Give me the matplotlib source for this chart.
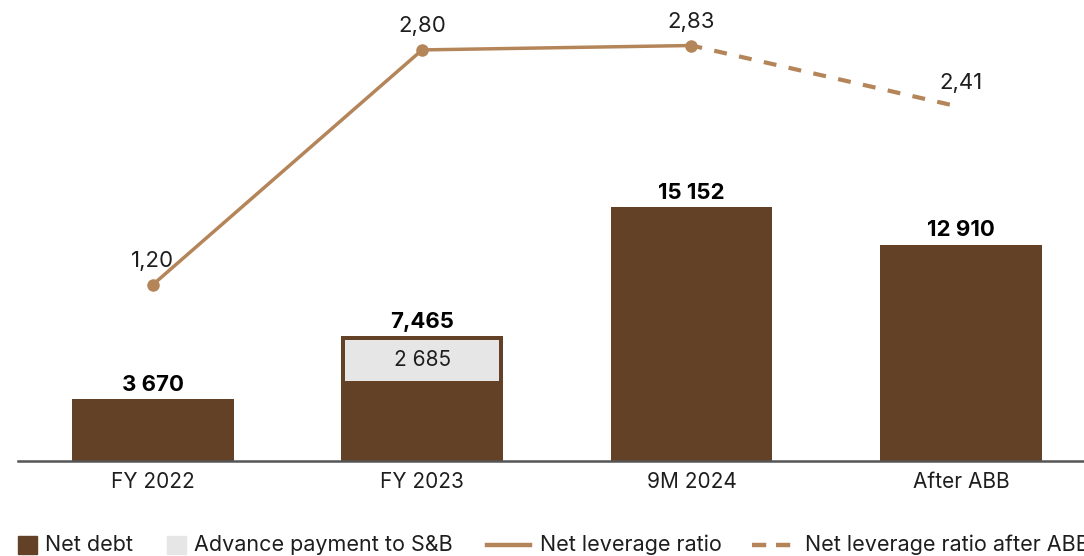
import matplotlib
matplotlib.use("Agg")
import matplotlib.pyplot as plt
from matplotlib.patches import Rectangle
from matplotlib.lines import Line2D

plt.rcParams['font.family'] = ['Inter', 'DejaVu Sans']

categories = ["FY 2022", "FY 2023", "9M 2024", "After ABB"]
net_debt = [3670, 7465, 15152, 12910]
net_debt_labels = ["3 670", "7,465", "15 152", "12 910"]
advance_payment = [0, 2685, 0, 0]
leverage = [1.20, 2.80, 2.83]
leverage_after = [2.83, 2.41]
leverage_labels = ["1,20", "2,80", "2,83", "2,41"]
legend_labels = ["Net debt", "Advance payment to S&B", "Net leverage ratio",
                 "Net leverage ratio after ABB"]

BROWN = "#634127"
GREY = "#E6E6E6"
TAN = "#B5855A"
TEXT = "#1E1E1E"

W, H = 1084, 556
fig = plt.figure(figsize=(W / 100, H / 100), dpi=100)
ax = fig.add_axes([18 / W, 1 - 461 / H, 1 - 18 / W, 461 / H])
ax2 = ax.twinx()

x = list(range(len(categories)))
width = 0.6
ax.set_xlim(-0.5, 3.457)
ax.set_ylim(0, 27500)
ax2.set_ylim(0, 3.14)

# Net debt bars
ax.bar(x, net_debt, width=width, color=BROWN, zorder=2)

# Advance payment shown as a light inset inside the top of the bar
dx = 3.5 / 269.3          # inset of ~3 px horizontally, in data units
dy_top = 4 / 0.01676      # ~4 px from the bar top
for i, a in enumerate(advance_payment):
    if a > 0:
        bottom = net_debt[i] - a
        ax.bar(x[i], a - dy_top, bottom=bottom, width=width - 2 * dx,
               color=GREY, zorder=3)
        ax.text(x[i], bottom + (a - dy_top) / 2, f"{a:,}".replace(",", " "),
                ha="center", va="center", fontsize=15, color=TEXT, zorder=4)

for xi, v, lab in zip(x, net_debt, net_debt_labels):
    ax.annotate(lab, (xi, v), xytext=(0, 3), textcoords="offset points",
                ha="center", va="bottom", fontsize=16, fontweight="bold",
                color="black")

ax.set_xticks(x)
ax.set_xticklabels(categories, fontsize=15, color=TEXT)
ax.tick_params(axis="x", length=0, pad=8)
ax.tick_params(axis="y", left=False, labelleft=False)
for s in ["top", "right", "left"]:
    ax.spines[s].set_visible(False)
ax.spines["bottom"].set_color("#555555")
ax.spines["bottom"].set_linewidth(1.8)
ax.spines["bottom"].set_zorder(5)

# Leverage ratio lines
ax2.plot(x[:3], leverage, color=TAN, linewidth=2.5, marker="o", markersize=8,
         solid_capstyle="round")
ax2.plot(x[2:], leverage_after, color=TAN, linewidth=3,
         linestyle=(0.5, (3.1, 3.0)), dash_capstyle="butt")
for xi, v, lab in zip(x, leverage + leverage_after[1:], leverage_labels):
    ax2.annotate(lab, (xi, v), xytext=(0, 10), textcoords="offset points",
                 ha="center", va="bottom", fontsize=16, color=TEXT)
ax2.axis("off")


def px(xp, yp):
    return xp / W, 1 - yp / H


# Legend row
ly = 545
fig.patches.append(Rectangle(px(18, 554), 19 / W, 18 / H, color=BROWN,
                             transform=fig.transFigure))
fig.patches.append(Rectangle(px(167, 554), 19 / W, 18 / H, color=GREY,
                             transform=fig.transFigure))
fig.lines.append(Line2D([487 / W, 530 / W], [1 - ly / H] * 2, color=TAN,
                        linewidth=3.2, transform=fig.transFigure))
fig.lines.append(Line2D([752 / W, 795 / W], [1 - ly / H] * 2, color=TAN,
                        linewidth=3.2, linestyle=(0, (3.2, 2.2)),
                        transform=fig.transFigure))
for xp, lab in zip([45, 194, 540, 805], legend_labels):
    fig.text(*px(xp, ly), lab, ha="left", va="center", fontsize=15.5,
             color=TEXT)

fig.savefig("out.png", dpi=100)
